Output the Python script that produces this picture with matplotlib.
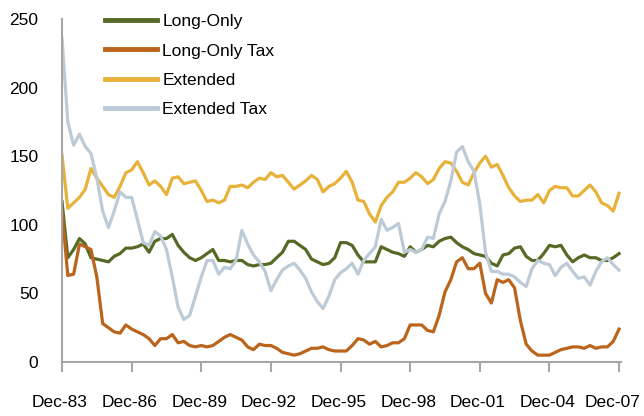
import matplotlib
matplotlib.use("Agg")
import matplotlib.pyplot as plt
import matplotlib.transforms as mtransforms
import pandas as pd

plt.rcParams['font.family'] = ['Liberation Sans', 'DejaVu Sans']

# quarterly observations, Dec-83 .. Dec-07
dates = pd.date_range('1983-12-01', periods=97, freq='3MS')

long_only = [117, 76, 82, 90, 86, 76, 75, 74, 73, 77, 79, 83, 83, 84, 86, 80, 88, 90, 90, 93,
             85, 80, 76, 74, 76, 79, 82, 74, 74, 73, 74, 74, 71, 70, 71, 71, 72, 76, 80, 88,
             88, 85, 82, 75, 73, 71, 72, 76, 87, 87, 85, 78, 73, 73, 73, 84, 82, 80, 79, 77,
             84, 80, 82, 85, 84, 88, 90, 91, 87, 84, 82, 79, 78, 77, 72, 70, 78, 79, 83, 84,
             77, 74, 74, 79, 85, 84, 85, 78, 73, 76, 78, 76, 76, 74, 74, 76, 79]

long_only_tax = [110, 63, 64, 86, 84, 82, 62, 28, 25, 22, 21, 27, 24, 22, 20, 17, 12, 17, 17, 20,
                 14, 15, 12, 11, 12, 11, 12, 15, 18, 20, 18, 16, 11, 9, 13, 12, 12, 10, 7, 6,
                 5, 6, 8, 10, 10, 11, 9, 8, 8, 8, 12, 17, 16, 13, 15, 11, 12, 14, 14, 17,
                 27, 27, 27, 23, 22, 34, 51, 60, 73, 76, 68, 68, 72, 50, 43, 60, 58, 60, 54, 30,
                 13, 8, 5, 5, 5, 7, 9, 10, 11, 11, 10, 12, 10, 11, 11, 15, 24]

extended = [151, 112, 116, 120, 126, 141, 134, 128, 122, 120, 128, 138, 140, 146, 138, 129, 132, 128, 122, 134,
            135, 130, 131, 132, 125, 117, 118, 116, 118, 128, 128, 129, 127, 131, 134, 133, 138, 135, 136, 131,
            126, 129, 132, 136, 133, 124, 128, 130, 134, 139, 131, 118, 117, 108, 102, 114, 120, 124, 131, 131,
            134, 138, 135, 130, 133, 141, 146, 145, 139, 131, 129, 138, 145, 150, 142, 144, 136, 127, 121, 117,
            118, 118, 122, 116, 125, 128, 127, 127, 121, 121, 125, 129, 124, 116, 114, 110, 123]

extended_tax = [236, 175, 158, 166, 157, 152, 134, 110, 98, 110, 124, 120, 120, 104, 87, 85, 95, 92, 82, 62,
                40, 31, 34, 48, 62, 74, 74, 64, 69, 68, 74, 96, 86, 78, 73, 66, 52, 60, 67, 70,
                72, 67, 61, 51, 44, 39, 48, 60, 65, 68, 72, 64, 74, 79, 84, 104, 96, 98, 101, 80,
                82, 80, 82, 91, 90, 108, 117, 132, 153, 157, 146, 139, 115, 80, 66, 66, 64, 64, 62, 58,
                55, 68, 74, 72, 71, 63, 69, 72, 66, 61, 62, 56, 66, 73, 76, 71, 67]

series_names = ['Long-Only', 'Long-Only Tax', 'Extended', 'Extended Tax']
series_colors = ['#566A26', '#BA641C', '#E8B23A', '#BCCBD7']

tick_years = list(range(1983, 2008, 3))
tick_labels = ['Dec-83', 'Dec-86', 'Dec-89', 'Dec-92', 'Dec-95', 'Dec-98', 'Dec-01', 'Dec-04', 'Dec-07']

fig = plt.figure(figsize=(6.44, 4.16), dpi=100)
ax = fig.add_axes([62/644, 1 - 362/416, (621 - 62)/644, (362 - 19)/416])

for vals, name, col in zip([long_only, long_only_tax, extended, extended_tax], series_names, series_colors):
    ax.plot(dates, vals, color=col, lw=2.3, label=name, solid_joinstyle='round')

ax.set_ylim(0, 250)
ax.set_yticks([0, 50, 100, 150, 200, 250])
tick_dates = [pd.Timestamp(f'{y}-12-01') for y in tick_years]
ax.set_xticks(tick_dates)
ax.set_xticklabels(tick_labels)
ax.set_xlim(pd.Timestamp('1983-12-01'), pd.Timestamp('2008-01-01'))

for s in ['top', 'right']:
    ax.spines[s].set_visible(False)
for s in ['left', 'bottom']:
    ax.spines[s].set_color('#A6A6A6')
    ax.spines[s].set_linewidth(1.5)

ax.tick_params(axis='y', length=0, pad=17, labelsize=12.5)
ax.tick_params(axis='x', length=7, width=1.5, color='#A6A6A6', pad=17, labelsize=12.5)

# nudge tick labels slightly left (as in the reference), last one more so it stays on the canvas
labels = ax.get_xticklabels()
for i, lab in enumerate(labels):
    dx = -6 if i == len(labels) - 1 else -2
    lab.set_transform(lab.get_transform() + mtransforms.ScaledTranslation(dx / 100, 0, fig.dpi_scale_trans))

leg = fig.legend(loc='upper left', bbox_to_anchor=(105/644, 1 - 14/416), frameon=False,
                 fontsize=12.5, handlelength=3.0, handletextpad=0.3, labelspacing=0.82,
                 borderpad=0, borderaxespad=0)
for line in leg.get_lines():
    line.set_linewidth(3.5)

fig.savefig('out.png', dpi=100)
